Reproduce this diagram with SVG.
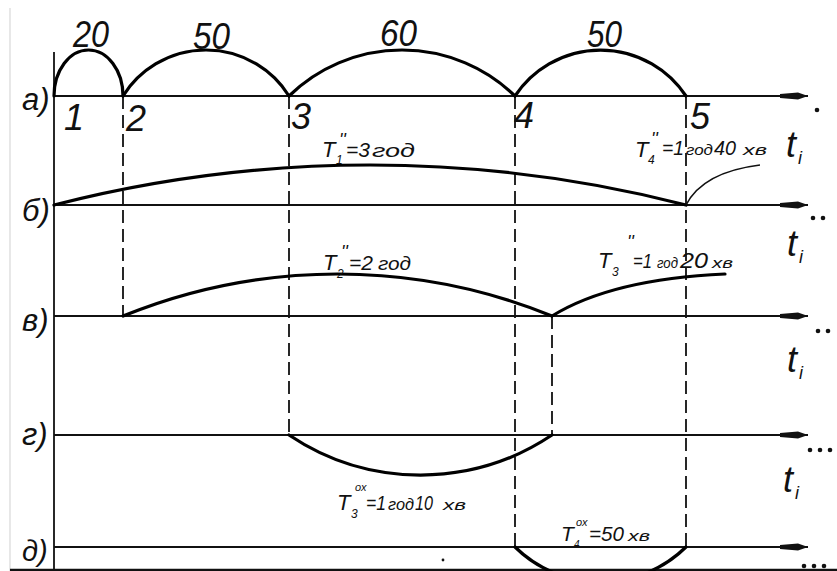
<svg xmlns="http://www.w3.org/2000/svg" width="837" height="571" viewBox="0 0 837 571">
<style>
.ax{stroke:#111;stroke-width:2;fill:none}
.cv{stroke:#000;stroke-width:3.2;fill:none;stroke-linecap:round}
.ds{stroke:#111;stroke-width:1.8;fill:none;stroke-dasharray:13 6}
.t{font-family:"Liberation Sans Narrow","Liberation Sans",sans-serif;font-style:italic;fill:#111}
.big{font-size:36px}
.row{font-size:31px}
.lb{font-size:21px}
.dot{fill:#111}
</style>
<defs>
<marker id="arr" markerUnits="userSpaceOnUse" markerWidth="30" markerHeight="10" refX="28" refY="5" orient="auto" viewBox="0 0 30 10">
<path d="M0,3 L18,1.5 L28,5 L18,8.5 L0,7 z" fill="#111"/>
</marker>
</defs>
<rect width="837" height="571" fill="#fff"/>
<line x1="10" y1="8" x2="10" y2="571" stroke="#d8d8d8" stroke-width="1.2"/>
<line x1="54" y1="52" x2="54" y2="571" stroke="#111" stroke-width="1.8"/>
<line x1="10" y1="570" x2="837" y2="570" stroke="#111" stroke-width="2.6"/>

<g id="connectors">
<line class="ds" x1="123" y1="96" x2="123" y2="316"/>
<line class="ds" x1="289" y1="96" x2="289" y2="435"/>
<line class="ds" x1="515" y1="96" x2="515" y2="547"/>
<line class="ds" x1="552" y1="316" x2="552" y2="435"/>
<line class="ds" x1="686" y1="96" x2="686" y2="547"/>
</g>

<g id="row-a">
<line class="ax" x1="54" y1="96" x2="808" y2="96" marker-end="url(#arr)"/>
<path class="cv" d="M54,96 A34.5,46 0 0 1 123,96"/>
<path class="cv" d="M123,96 A97.9,97.9 0 0 1 289,96"/>
<path class="cv" d="M289,96 A161.8,161.8 0 0 1 515,96"/>
<path class="cv" d="M515,96 A102.5,102.5 0 0 1 686,96"/>
<text class="t big" x="73" y="47" textLength="36" lengthAdjust="spacingAndGlyphs">20</text>
<text class="t big" x="193" y="49" textLength="37" lengthAdjust="spacingAndGlyphs">50</text>
<text class="t big" x="380" y="46" textLength="37" lengthAdjust="spacingAndGlyphs">60</text>
<text class="t big" x="587" y="47" textLength="35" lengthAdjust="spacingAndGlyphs">50</text>
<text class="t row" x="22" y="110">а)</text>
<text class="t big" x="64" y="130">1</text>
<text class="t big" x="126" y="131">2</text>
<text class="t big" x="291" y="129">3</text>
<text class="t big" x="514" y="128">4</text>
<text class="t big" x="690" y="129">5</text>
<text class="t" x="786" y="157" font-size="36">t</text>
<text class="t" x="798" y="164" font-size="18">i</text>
<circle class="dot" cx="817" cy="110" r="2.3"/>
</g>

<g id="row-b">
<line class="ax" x1="54" y1="205" x2="808" y2="205" marker-end="url(#arr)"/>
<path class="cv" d="M54,205 A1268,1268 0 0 1 686,205"/>
<path d="M686,205 Q703,172 760,165" stroke="#111" stroke-width="1.6" fill="none"/>
<text class="t row" x="22" y="221">б)</text>
<text class="t lb"><tspan x="322" y="157" font-size="22">T</tspan><tspan x="336" y="164" font-size="12">1</tspan><tspan x="339" y="146" font-size="18">''</tspan><tspan x="346" y="157">=3</tspan><tspan x="372" y="157" font-size="19" textLength="43" lengthAdjust="spacingAndGlyphs">год</tspan></text>
<text class="t lb"><tspan x="635" y="157" font-size="22">T</tspan><tspan x="648" y="164" font-size="12">4</tspan><tspan x="651" y="145" font-size="18">''</tspan><tspan x="662" y="155" textLength="22" lengthAdjust="spacingAndGlyphs">=1</tspan><tspan x="686" y="155" font-size="15" textLength="27" lengthAdjust="spacingAndGlyphs">год</tspan><tspan x="714" y="155" textLength="22" lengthAdjust="spacingAndGlyphs">40</tspan><tspan x="743" y="155" font-size="15" textLength="24" lengthAdjust="spacingAndGlyphs">хв</tspan></text>
<text class="t" x="787" y="256" font-size="36">t</text>
<text class="t" x="799" y="263" font-size="18">i</text>
<circle class="dot" cx="813" cy="218" r="2.3"/>
<circle class="dot" cx="823" cy="218" r="2.3"/>
</g>

<g id="row-v">
<line class="ax" x1="54" y1="316" x2="808" y2="316" marker-end="url(#arr)"/>
<path class="cv" d="M123,316 A568.7,568.7 0 0 1 552,316"/>
<path class="cv" d="M552,316 Q612,279 725,274"/>
<text class="t row" x="22" y="331">в)</text>
<text class="t lb"><tspan x="323" y="270" font-size="22">T</tspan><tspan x="337" y="278" font-size="12">2</tspan><tspan x="341" y="258" font-size="18">''</tspan><tspan x="349" y="270">=2</tspan><tspan x="378" y="270" font-size="19" textLength="33" lengthAdjust="spacingAndGlyphs">год</tspan></text>
<text class="t lb"><tspan x="598" y="268" font-size="22">T</tspan><tspan x="612" y="276" font-size="12">3</tspan><tspan x="627" y="248" font-size="18">''</tspan><tspan x="633" y="268" textLength="19" lengthAdjust="spacingAndGlyphs">=1</tspan><tspan x="657" y="268" font-size="15" textLength="21" lengthAdjust="spacingAndGlyphs">год</tspan><tspan x="680" y="268" font-size="22" textLength="28" lengthAdjust="spacingAndGlyphs">20</tspan><tspan x="712" y="268" font-size="15" textLength="21" lengthAdjust="spacingAndGlyphs">хв</tspan></text>
<text class="t" x="787" y="372" font-size="36">t</text>
<text class="t" x="799" y="379" font-size="18">i</text>
<circle class="dot" cx="818" cy="331" r="2.3"/>
<circle class="dot" cx="828" cy="331" r="2.3"/>
</g>

<g id="row-g">
<line class="ax" x1="54" y1="435" x2="808" y2="435" marker-end="url(#arr)"/>
<path class="cv" d="M289,435 A236,236 0 0 0 552,435"/>
<text class="t row" x="22" y="445">г)</text>
<text class="t lb"><tspan x="337" y="510" font-size="22">T</tspan><tspan x="351" y="518" font-size="12">3</tspan><tspan x="355" y="491" font-size="11">ох</tspan><tspan x="366" y="510" textLength="20" lengthAdjust="spacingAndGlyphs">=1</tspan><tspan x="388" y="510" font-size="16" textLength="26" lengthAdjust="spacingAndGlyphs">год</tspan><tspan x="415" y="510" textLength="18" lengthAdjust="spacingAndGlyphs">10</tspan><tspan x="443" y="510" font-size="15" textLength="23" lengthAdjust="spacingAndGlyphs">хв</tspan></text>
<text class="t" x="783" y="492" font-size="36">t</text>
<text class="t" x="795" y="499" font-size="18">i</text>
<circle class="dot" cx="810" cy="450" r="2.3"/>
<circle class="dot" cx="820" cy="450" r="2.3"/>
<circle class="dot" cx="830" cy="450" r="2.3"/>
</g>

<g id="row-d">
<line class="ax" x1="54" y1="547" x2="808" y2="547" marker-end="url(#arr)"/>
<path class="cv" d="M515,547 A121.9,121.9 0 0 0 686,547"/>
<text class="t" x="22" y="561" font-size="29">д)</text>
<text class="t lb"><tspan x="561" y="541" font-size="21">T</tspan><tspan x="574" y="548" font-size="10">4</tspan><tspan x="576" y="526" font-size="11">ох</tspan><tspan x="589" y="541" textLength="35" lengthAdjust="spacingAndGlyphs">=50</tspan><tspan x="628" y="541" font-size="15" textLength="22" lengthAdjust="spacingAndGlyphs">хв</tspan></text>
<circle class="dot" cx="804" cy="566" r="2.3"/>
<circle class="dot" cx="814" cy="566" r="2.3"/>
<circle class="dot" cx="824" cy="566" r="2.3"/>
<circle class="dot" cx="443" cy="560" r="1.4"/>
</g>
</svg>
